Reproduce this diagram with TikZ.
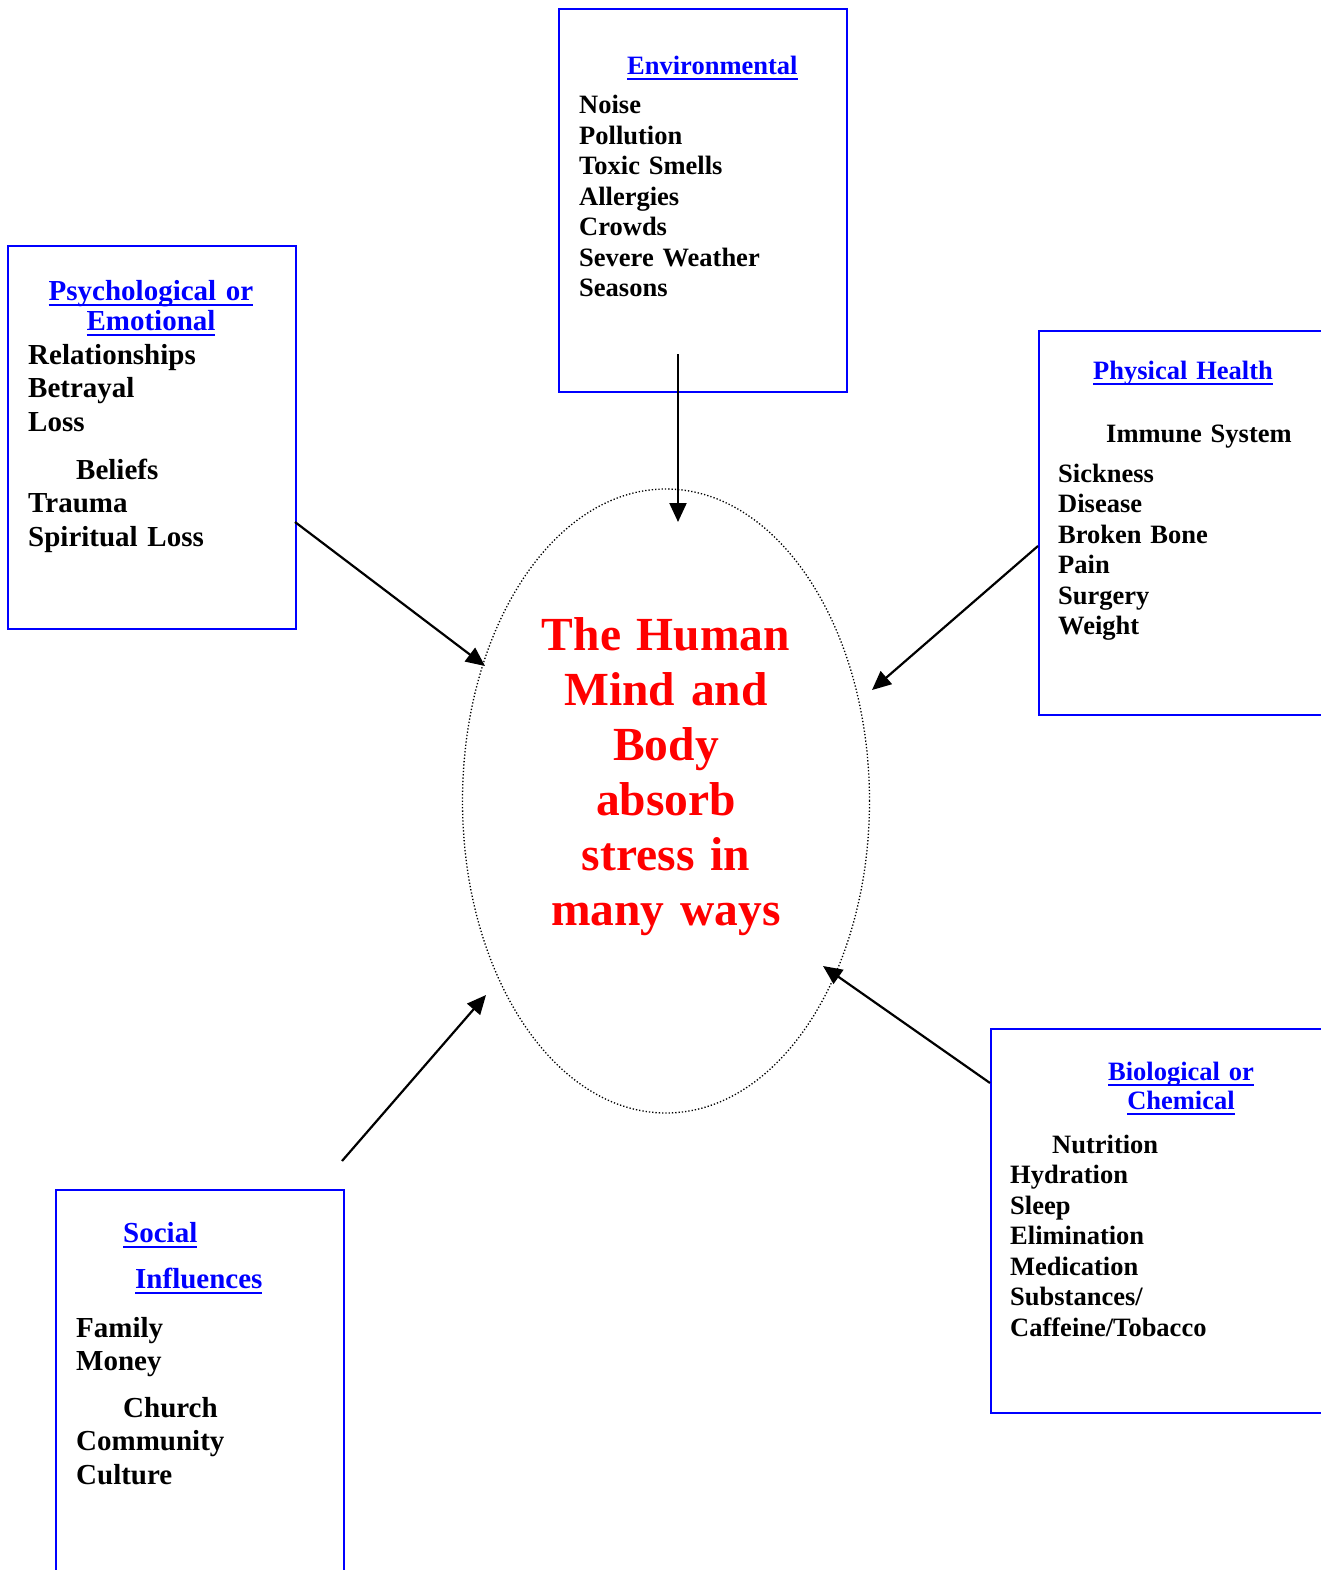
\documentclass[tikz,border=0pt]{standalone}
\usepackage{fontspec}
\setmainfont{Liberation Serif}
\usetikzlibrary{arrows.meta,positioning,shapes.geometric}
\definecolor{frameblue}{HTML}{0000FF}
\definecolor{corered}{HTML}{FF0000}
\newcommand{\uln}[1]{\leavevmode\setbox0=\hbox{#1}\rlap{\rule[-5.5pt]{\wd0}{2pt}}\box0}

\begin{document}
\begin{tikzpicture}[x=1pt,y=-1pt,
  bx/.style={draw=frameblue,line width=2pt,anchor=north west,
             minimum width=288,minimum height=383},
  sm/.style={font=\fontsize{26.5}{30.5}\selectfont\bfseries,inner sep=0pt,
             text width=280pt,align=left,anchor=base west},
  lg/.style={font=\fontsize{29}{33.5}\selectfont\bfseries,inner sep=0pt,
             text width=280pt,align=left,anchor=base west},
  ttl/.style={text=frameblue},
  ar/.style={-{Triangle[length=19pt,width=17pt]},line width=2.2pt}
]
\useasboundingbox (0,0) rectangle (1321,1570);
\clip (0,0) rectangle (1321,1570);

\node[bx] (env) at (558,8) {};
\node[bx] (psy) at (7,245) {};
\node[bx,minimum width=310,minimum height=384] (phys) at (1038,330) {};
\node[bx,minimum width=360,minimum height=384] (bio) at (990,1028) {};
\node[bx,minimum height=420] (soc) at (55,1189) {};
\node[ellipse,draw=black,dotted,line width=1.3pt,
      minimum width=407,minimum height=624] (core) at (666,801) {};

\node[sm,ttl] (envttl) at (627,75) {\uln{Environmental}};
\node[sm] (envlst) at (579,114) {Noise\\Pollution\\Toxic Smells\\Allergies\\Crowds\\Severe Weather\\Seasons};

\node[lg,ttl,align=center,anchor=base,font=\fontsize{29}{30}\selectfont\bfseries] (psyttl) at (151,300)
  {\uln{Psychological or}\\\uln{Emotional}};
\node[lg] (psylst) at (28,364) {Relationships\\Betrayal\\Loss\\[14.5pt]\hspace*{48pt}Beliefs\\Trauma\\Spiritual Loss};

\node[sm,ttl] (physttl) at (1093,379) {\uln{Physical Health}};
\node[sm] (physlst) at (1058,442) {\hspace*{48pt}Immune System\\[9.5pt]Sickness\\Disease\\Broken Bone\\Pain\\Surgery\\Weight};

\node[sm,ttl,align=center,anchor=base,font=\fontsize{26.5}{29.5}\selectfont\bfseries] (biottl) at (1181,1080)
  {\uln{Biological or}\\\uln{Chemical}};
\node[sm] (biolst) at (1010,1153) {\hspace*{42pt}Nutrition\\Hydration\\Sleep\\Elimination\\Medication\\Substances/\\Caffeine/Tobacco};

\node[lg,ttl] (socttl) at (123,1242) {\uln{Social}\\[12.5pt]\hspace*{12pt}\uln{Influences}};
\node[lg] (soclst) at (76,1337) {Family\\Money\\[13pt]\hspace*{47pt}Church\\Community\\Culture};

\node[font=\fontsize{47.5}{55}\selectfont\bfseries,text=corered,inner sep=0pt,
      text width=400pt,align=center,anchor=base] (msg) at (666,650)
  {The Human\\Mind and\\Body\\absorb\\stress in\\many ways};

\coordinate (envout) at (678,354);
\coordinate (envin) at (678,522);
\coordinate (psyout) at (295,522);
\coordinate (psyin) at (485,666);
\coordinate (physout) at (1038,546);
\coordinate (physin) at (872,690);
\coordinate (bioout) at (990,1083);
\coordinate (bioin) at (823,966);
\coordinate (socout) at (342,1161);
\coordinate (socin) at (486,995);

\draw[ar] (envout) -- (envin);
\draw[ar] (psyout) -- (psyin);
\draw[ar] (physout) -- (physin);
\draw[ar] (bioout) -- (bioin);
\draw[ar] (socout) -- (socin);
\end{tikzpicture}
\end{document}
